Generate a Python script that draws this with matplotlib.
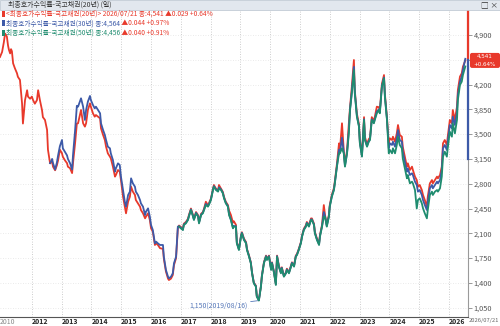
import numpy as np
import matplotlib
matplotlib.use("Agg")
import matplotlib.pyplot as plt
from matplotlib.patches import Rectangle, FancyBboxPatch
from matplotlib.transforms import blended_transform_factory, Affine2D

plt.rcParams["font.family"] = ["Noto Sans CJK KR", "DejaVu Sans"]

# ------------------------------------------------------------------ #
#  DONNEES : annee decimale + taux x1000            #
# ------------------------------------------------------------------ #
dates = [
    # 20 ans seul
    2010.93, 2011.00, 2011.06, 2011.10, 2011.16, 2011.20, 2011.23, 2011.27, 2011.30, 2011.33,
    2011.37, 2011.43, 2011.50, 2011.53, 2011.60, 2011.67, 2011.70, 2011.77, 2011.84, 2011.87,
    2011.94, 2012.00, 2012.04, 2012.10, 2012.17, 2012.21, 2012.27, 2012.34, 2012.37, 2012.44,
    2012.51, 2012.54,
    # 20 ans + 30 ans
    2012.61, 2012.68, 2012.71, 2012.78, 2012.84, 2012.88, 2012.94, 2013.01, 2013.04, 2013.11,
    2013.18, 2013.21, 2013.28, 2013.35, 2013.38, 2013.45, 2013.51, 2013.55, 2013.65, 2013.72,
    2013.78, 2013.82, 2013.88, 2013.95, 2013.98, 2014.05, 2014.11, 2014.15, 2014.22, 2014.29,
    2014.32, 2014.39, 2014.45, 2014.49, 2014.55, 2014.62, 2014.65, 2014.72, 2014.79, 2014.82,
    2014.89, 2014.95, 2014.99, 2015.06, 2015.12, 2015.16, 2015.23, 2015.29, 2015.33, 2015.39,
    2015.46, 2015.49, 2015.56, 2015.63, 2015.66, 2015.73, 2015.80, 2015.83, 2015.90, 2015.96,
    2016.00, 2016.06, 2016.13, 2016.17, 2016.23, 2016.30, 2016.40, 2016.43, 2016.50, 2016.57,
    2016.60, 2016.67, 2016.73, 2016.77, 2016.84, 2016.90,
    # 20 + 30 + 50 ans
    2016.94, 2017.00, 2017.07, 2017.10, 2017.17, 2017.24, 2017.27, 2017.34, 2017.41, 2017.44,
    2017.51, 2017.58, 2017.61, 2017.68, 2017.74, 2017.78, 2017.84, 2017.91, 2017.94, 2018.01,
    2018.08, 2018.11, 2018.18, 2018.25, 2018.28, 2018.35, 2018.41, 2018.45, 2018.51, 2018.58,
    2018.62, 2018.68, 2018.75, 2018.78, 2018.85, 2018.88, 2018.95, 2019.02, 2019.05, 2019.12,
    2019.19, 2019.22, 2019.29, 2019.35, 2019.39, 2019.45, 2019.52, 2019.55, 2019.62, 2019.69,
    2019.72, 2019.79, 2019.86, 2019.89, 2019.96, 2020.03, 2020.06, 2020.13, 2020.19, 2020.23,
    2020.29, 2020.36, 2020.39, 2020.46, 2020.53, 2020.56, 2020.63, 2020.70, 2020.73, 2020.80,
    2020.86, 2020.90, 2020.96, 2021.03, 2021.07, 2021.13, 2021.20, 2021.23, 2021.30, 2021.37,
    2021.40, 2021.47, 2021.50, 2021.57, 2021.64, 2021.67, 2021.74, 2021.80, 2021.84, 2021.90,
    2021.97, 2022.00, 2022.07, 2022.14, 2022.17, 2022.24, 2022.31, 2022.34, 2022.41, 2022.47,
    2022.51, 2022.58, 2022.64, 2022.68, 2022.74, 2022.81, 2022.84, 2022.91, 2022.98, 2023.01,
    2023.08, 2023.15, 2023.18, 2023.25, 2023.31, 2023.35, 2023.41, 2023.48, 2023.51, 2023.58,
    2023.65, 2023.68, 2023.75, 2023.82, 2023.85, 2023.92, 2023.98, 2024.02, 2024.09, 2024.12,
    2024.19, 2024.25, 2024.29, 2024.35, 2024.42, 2024.45, 2024.52, 2024.59, 2024.62, 2024.69,
    2024.76, 2024.79, 2024.86, 2024.92, 2024.96, 2025.02, 2025.09, 2025.13, 2025.19, 2025.26,
    2025.29, 2025.36, 2025.43, 2025.46, 2025.53, 2025.60, 2025.63, 2025.70, 2025.76, 2025.80,
    2025.86, 2025.93, 2025.96, 2026.03, 2026.10, 2026.13, 2026.20, 2026.27, 2026.30, 2026.37,
    2026.43, 2026.47, 2026.55,
]

red_20y = [
    4590, 4660, 4800, 4920, 4880, 4750, 4690, 4640, 4700, 4670,
    4500, 4430, 4360, 4310, 4265, 3935, 3650, 3980, 4120, 4030,
    4000, 4030, 3980, 3930, 3980, 4120, 3980, 3840, 3740, 3700,
    3560, 3280,
    3090, 3110, 3040, 2990, 3060, 3130, 3280, 3230, 3180, 3130,
    3090, 3040, 3020, 2950, 3090, 3370, 3650, 3653, 3841, 3653,
    3606, 3653, 3841, 3935, 3888, 3794, 3747, 3770, 3747, 3723,
    3582, 3488, 3417, 3323, 3229, 3182, 3158, 3041, 2900, 2923,
    2994, 2970, 2852, 2617, 2476, 2382, 2546, 2617, 2758, 2688,
    2641, 2570, 2523, 2476, 2429, 2382, 2311, 2335, 2382, 2288,
    2170, 2123, 1935, 1958, 1935, 1890, 1880, 1740, 1560, 1460,
    1440, 1460, 1510, 1650, 1750, 2170,
    2210, 2190, 2160, 2235, 2260, 2305, 2355, 2450, 2355, 2305,
    2400, 2355, 2260, 2375, 2400, 2450, 2546, 2495, 2520, 2590,
    2730, 2782, 2730, 2705, 2782, 2730, 2685, 2615, 2545, 2500,
    2420, 2360, 2250, 2270, 2220, 1975, 1880, 2070, 2115, 2025,
    1975, 1880, 1785, 1690, 1550, 1405, 1360, 1215, 1160, 1360,
    1500, 1690, 1785, 1740, 1785, 1600, 1690, 1550, 1385, 1785,
    1645, 1550, 1620, 1500, 1550, 1600, 1550, 1645, 1690, 1645,
    1785, 1810, 1880, 1975, 2070, 2165, 2215, 2260, 2215, 2310,
    2310, 2235, 2120, 2025, 1955, 2075, 2220, 2499, 2360, 2220,
    2360, 2500, 2645, 2740, 2835, 3080, 3370, 3270, 3653, 3270,
    3080, 3270, 3653, 3880, 4170, 4547, 4120, 3790, 3640, 3410,
    3220, 3740, 3460, 3360, 3430, 3450, 3740, 3690, 3740, 3888,
    3880, 3830, 4210, 4335, 4070, 3740, 3380, 3441, 3417, 3464,
    3394, 3511, 3629, 3488, 3464, 3323, 3182, 3041, 3088, 2994,
    3041, 2994, 2900, 2852, 2758, 2782, 2711, 2641, 2570, 2476,
    2617, 2805, 2852, 2805, 2852, 2900, 2876, 2923, 3041, 3370,
    3417, 3347, 3464, 3700, 3653, 3841, 3700, 3888, 4123, 4312,
    4359, 4453, 4541,
]

blue_30y = [
    3090, 3150, 3090, 3000, 3100, 3200, 3330, 3417, 3300, 3250,
    3200, 3150, 3090, 3000, 3200, 3550, 3900, 3888, 4006, 3888,
    3700, 3841, 3959, 4039, 3982, 3912, 3864, 3888, 3841, 3794,
    3653, 3558, 3488, 3417, 3323, 3300, 3229, 3135, 2970, 3017,
    3088, 3064, 2900, 2711, 2546, 2476, 2641, 2688, 2876, 2805,
    2758, 2688, 2641, 2570, 2523, 2476, 2358, 2405, 2452, 2335,
    2217, 2146, 1958, 1982, 1958, 1935, 1935, 1770, 1582, 1487,
    1464, 1487, 1535, 1676, 1770, 2194,
    2200, 2178, 2152, 2224, 2248, 2295, 2342, 2438, 2342, 2295,
    2390, 2342, 2248, 2365, 2390, 2438, 2515, 2484, 2508, 2578,
    2720, 2766, 2720, 2696, 2750, 2720, 2672, 2602, 2531, 2484,
    2366, 2296, 2178, 2202, 2202, 1966, 1872, 2060, 2107, 2013,
    1966, 1872, 1778, 1684, 1543, 1400, 1353, 1212, 1155, 1353,
    1494, 1684, 1778, 1730, 1778, 1590, 1684, 1543, 1378, 1778,
    1636, 1543, 1612, 1494, 1543, 1590, 1543, 1636, 1684, 1636,
    1778, 1800, 1872, 1966, 2060, 2154, 2202, 2248, 2202, 2296,
    2296, 2224, 2107, 2013, 1943, 2060, 2202, 2400, 2343, 2202,
    2343, 2484, 2625, 2720, 2813, 3050, 3280, 3238, 3450, 3238,
    3050, 3238, 3560, 3850, 4100, 4450, 4090, 3760, 3615, 3380,
    3192, 3710, 3428, 3333, 3404, 3428, 3710, 3662, 3710, 3820,
    3850, 3804, 4180, 4300, 4040, 3710, 3300, 3370, 3347, 3394,
    3323, 3441, 3558, 3417, 3394, 3253, 3111, 2970, 3017, 2923,
    2947, 2923, 2829, 2782, 2688, 2711, 2641, 2570, 2500, 2429,
    2546, 2735, 2782, 2735, 2782, 2829, 2805, 2852, 2994, 3300,
    3347, 3276, 3394, 3629, 3582, 3747, 3629, 3817, 4053, 4241,
    4312, 4406, 4564,
]

green_50y = [
    2194, 2170, 2146, 2217, 2240, 2288, 2335, 2429, 2335, 2288,
    2382, 2335, 2240, 2358, 2382, 2429, 2500, 2476, 2500, 2570,
    2711, 2758, 2711, 2688, 2735, 2711, 2664, 2594, 2523, 2476,
    2358, 2288, 2170, 2194, 2194, 1958, 1864, 2052, 2099, 2005,
    1958, 1864, 1770, 1676, 1535, 1393, 1346, 1205, 1150, 1346,
    1487, 1676, 1770, 1723, 1770, 1582, 1676, 1535, 1370, 1770,
    1629, 1535, 1605, 1487, 1535, 1582, 1535, 1629, 1676, 1629,
    1770, 1793, 1864, 1958, 2052, 2146, 2194, 2240, 2194, 2288,
    2288, 2217, 2099, 2005, 1935, 2052, 2194, 2335, 2335, 2194,
    2335, 2476, 2617, 2711, 2805, 3041, 3229, 3229, 3300, 3229,
    3041, 3229, 3511, 3841, 4076, 4406, 4076, 3747, 3606, 3370,
    3182, 3700, 3417, 3323, 3394, 3417, 3700, 3653, 3700, 3794,
    3841, 3794, 4170, 4290, 4029, 3700, 3229, 3276, 3229, 3300,
    3229, 3347, 3464, 3347, 3300, 3158, 3017, 2876, 2923, 2805,
    2829, 2805, 2711, 2450, 2570, 2594, 2523, 2452, 2382, 2311,
    2429, 2641, 2688, 2641, 2688, 2711, 2688, 2735, 2900, 3182,
    3253, 3182, 3300, 3535, 3464, 3653, 3511, 3700, 3982, 4194,
    4241, 4335, 4456,
]

year_ticks = list(range(2012, 2027))
y_ticks = list(range(1050, 4901, 350))

legend_lines = [
    ("<최종호가수익률-국고채권(20년)> 2026/07/21 종:4,541 ▲0.029 +0.64%", ""),
    ("최종호가수익률-국고채권(30년) 종:4,564", " ▲0.044 +0.97%"),
    ("최종호가수익률-국고채권(50년) 종:4,456", " ▲0.040 +0.91%"),
]
TITLE = "최종호가수익률-국고채권(20년) (일)"
FIRST_LABEL, LAST_LABEL = "2010", "2026/07/21"
MIN_LABEL = "1,150(2019/08/16)"
LAST_VALUE, LAST_CHANGE = "4,541", "+0.64%"

RED, BLUE, GREEN = "#e8392b", "#3d5aa8", "#1f8c6f"
W, H = 500, 326

# ------------------------------------------------------------------ #
fig = plt.figure(figsize=(W / 100, H / 100), dpi=100, facecolor="white")
ax = fig.add_axes([0, 9 / H, 468 / W, 307 / H])

ax.plot(dates, red_20y, color=RED, lw=1.3, zorder=3)
ax.plot(dates[-len(blue_30y):], blue_30y, color=BLUE, lw=1.3, zorder=4)
ax.plot(dates[-len(green_50y):], green_50y, color=GREEN, lw=1.3, zorder=5)

ax.set_xlim(2010.93, 2026.64)
ax.set_ylim(918, 5253)

# axes / grille
for s in ["top", "left"]:
    ax.spines[s].set_visible(False)
ax.spines["right"].set_color("#9a9a9a")
ax.spines["bottom"].set_color("#555555")
ax.yaxis.tick_right()
ax.set_yticks(y_ticks)
ax.set_yticklabels([f"{v:,}" for v in y_ticks])
ax.tick_params(axis="y", labelsize=5.3, labelcolor="#555555", color="#888888",
               length=3, width=0.6, pad=1)
ax.set_xticks(year_ticks)
ax.set_xticklabels([str(y) for y in year_ticks], fontweight="bold")
for lab in ax.get_xticklabels():
    lab.set_horizontalalignment("left")
ax.tick_params(axis="x", labelsize=5, labelcolor="#222222", length=0, pad=0.5)
ax.grid(axis="x", ls=(0, (1, 2)), color="#bdbdbd", lw=0.6)
ax.grid(axis="y", ls=(0, (1, 2)), color="#e3e3e3", lw=0.6)
ax.set_axisbelow(True)

tb = blended_transform_factory(ax.transData, ax.transAxes)
ax.text(dates[0], -0.004, FIRST_LABEL, transform=tb, fontsize=5, color="#8a8a8a",
        ha="left", va="top")
ax.text(1.002, -0.004, LAST_LABEL, transform=ax.transAxes, fontsize=4.2,
        color="#666666", ha="left", va="top", clip_on=False)

# indicateur a droite + etiquette de la derniere valeur
tr = blended_transform_factory(ax.transAxes, ax.transData)
ax.plot([1, 1], [ax.get_ylim()[1], red_20y[-1]], transform=tr, color=RED, lw=1.6,
        clip_on=False, zorder=6)
ax.plot([1, 1], [red_20y[-1], y_ticks[6]], transform=tr, color=BLUE, lw=1.6,
        clip_on=False, zorder=6)
x_px, y_px = tr.transform((1, red_20y[-1]))
box = FancyBboxPatch((2, -7.5), 30, 15, boxstyle="round,pad=0,rounding_size=2",
                     transform=Affine2D().translate(x_px, y_px),
                     fc=RED, ec="none", clip_on=False, zorder=7)
ax.add_patch(box)
for txt, dy in [(LAST_VALUE, 3.9), (LAST_CHANGE, -3.9)]:
    ax.annotate(txt, xy=(1, red_20y[-1]), xycoords=tr, xytext=(17, dy),
                textcoords="offset pixels", fontsize=4.1, color="white",
                family="DejaVu Sans", ha="center", va="center",
                annotation_clip=False, zorder=8)

# minimum
i_min = int(np.argmin(green_50y))
t_min = dates[-len(green_50y):][i_min]
ax.annotate(MIN_LABEL, xy=(t_min, green_50y[i_min]), xytext=(-11, -5),
            textcoords="offset pixels", ha="right", va="center", fontsize=5,
            color="#5577b8",
            arrowprops=dict(arrowstyle="-", color="#5577b8", lw=0.6,
                            shrinkA=0, shrinkB=0))

# barre de titre
fig.patches.append(Rectangle((0, 1 - 10 / H), 1, 10 / H, transform=fig.transFigure,
                             fc="#e2e7ee", ec="#b9c3cf", lw=0.5, zorder=0))
fig.text(8 / W, 1 - 5 / H, TITLE, fontsize=5, color="#333333", va="center")
fig.text(481 / W, 1 - 5 / H, "□ ×", fontsize=5.5, color="#333333", va="center")

# legende
leg_colors = [RED, BLUE, GREEN]
for k, (txt, chg) in enumerate(legend_lines):
    yy = 1 - (14 + 9.3 * k) / H
    fig.patches.append(Rectangle((2 / W, yy - 3 / H), 2.5 / W, 6 / H,
                                 transform=fig.transFigure, fc=leg_colors[k],
                                 ec="none", zorder=8))
    t = fig.text(5.5 / W, yy, txt, fontsize=4.8, color=leg_colors[k], va="center",
                 zorder=9)
    if chg:
        ax.annotate(chg, xy=(1, 0.5), xycoords=t, va="center", ha="left",
                    fontsize=4.8, color=RED, annotation_clip=False, zorder=9)

fig.savefig("out.png", dpi=100, facecolor="white")
